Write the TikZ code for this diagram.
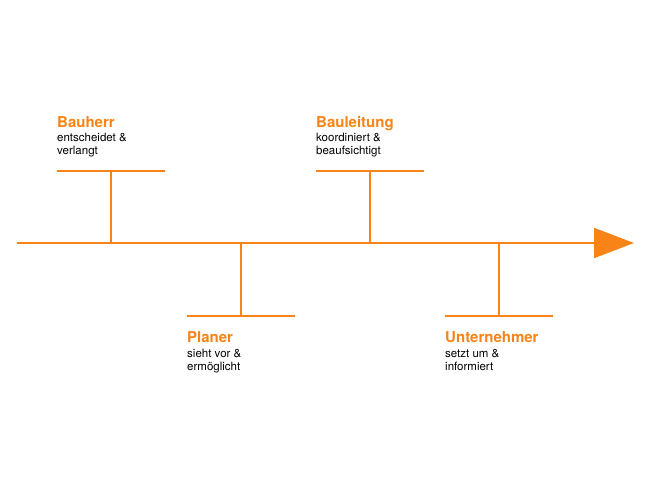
\documentclass[tikz,border=0pt]{standalone}
\usepackage{fontspec}
\setmainfont{TeX Gyre Heros}
\usepackage{xcolor}
\usepackage{tikz}
\usetikzlibrary{arrows.meta}
\definecolor{accent}{HTML}{F88418}

\begin{document}
\begin{tikzpicture}[x=1pt, y=-1pt,
  axis/.style={line width=2pt, draw=accent, -{Triangle[length=40pt, width=30pt]}},
  bar/.style={line width=2pt, draw=accent},
  role/.style={inner sep=0pt, anchor=base west, text=accent,
               font=\bfseries\fontsize{15}{18}\selectfont},
  task/.style={inner sep=0pt, anchor=base west, align=left,
               font=\fontsize{11.5}{12.8}\selectfont}]
\useasboundingbox (0,0) rectangle (650,488);
\coordinate (start) at (17,243);
\coordinate (end) at (634,243);
\draw[axis] (start) -- (end);
% above the axis
\coordinate (bauherr-l) at (57,171);
\coordinate (bauherr-r) at (165,171);
\coordinate (bauherr-m) at (111,171);
\node[role] (bauherr) at (57,127) {Bauherr};
\node[task] (bauherr-txt) at (57,154.5) {entscheidet \&\\ verlangt};
\coordinate (leitung-l) at (316,171);
\coordinate (leitung-r) at (424,171);
\coordinate (leitung-m) at (370,171);
\node[role] (leitung) at (316,127) {Bauleitung};
\node[task] (leitung-txt) at (316,154.5) {koordiniert \&\\ beaufsichtigt};
% below the axis
\coordinate (planer-l) at (187,316);
\coordinate (planer-r) at (295,316);
\coordinate (planer-m) at (241,316);
\node[role] (planer) at (187,342) {Planer};
\node[task] (planer-txt) at (187,370) {sieht vor \&\\ ermöglicht};
\coordinate (unter-l) at (445,316);
\coordinate (unter-r) at (553,316);
\coordinate (unter-m) at (499,316);
\node[role] (unter) at (445,342) {Unternehmer};
\node[task] (unter-txt) at (445,370) {setzt um \&\\ informiert};
\draw[bar] (bauherr-l) -- (bauherr-r);
\draw[bar] (bauherr-m) -- (bauherr-m |- start);
\draw[bar] (leitung-l) -- (leitung-r);
\draw[bar] (leitung-m) -- (leitung-m |- start);
\draw[bar] (planer-l) -- (planer-r);
\draw[bar] (planer-m) -- (planer-m |- start);
\draw[bar] (unter-l) -- (unter-r);
\draw[bar] (unter-m) -- (unter-m |- start);
\end{tikzpicture}
\end{document}
